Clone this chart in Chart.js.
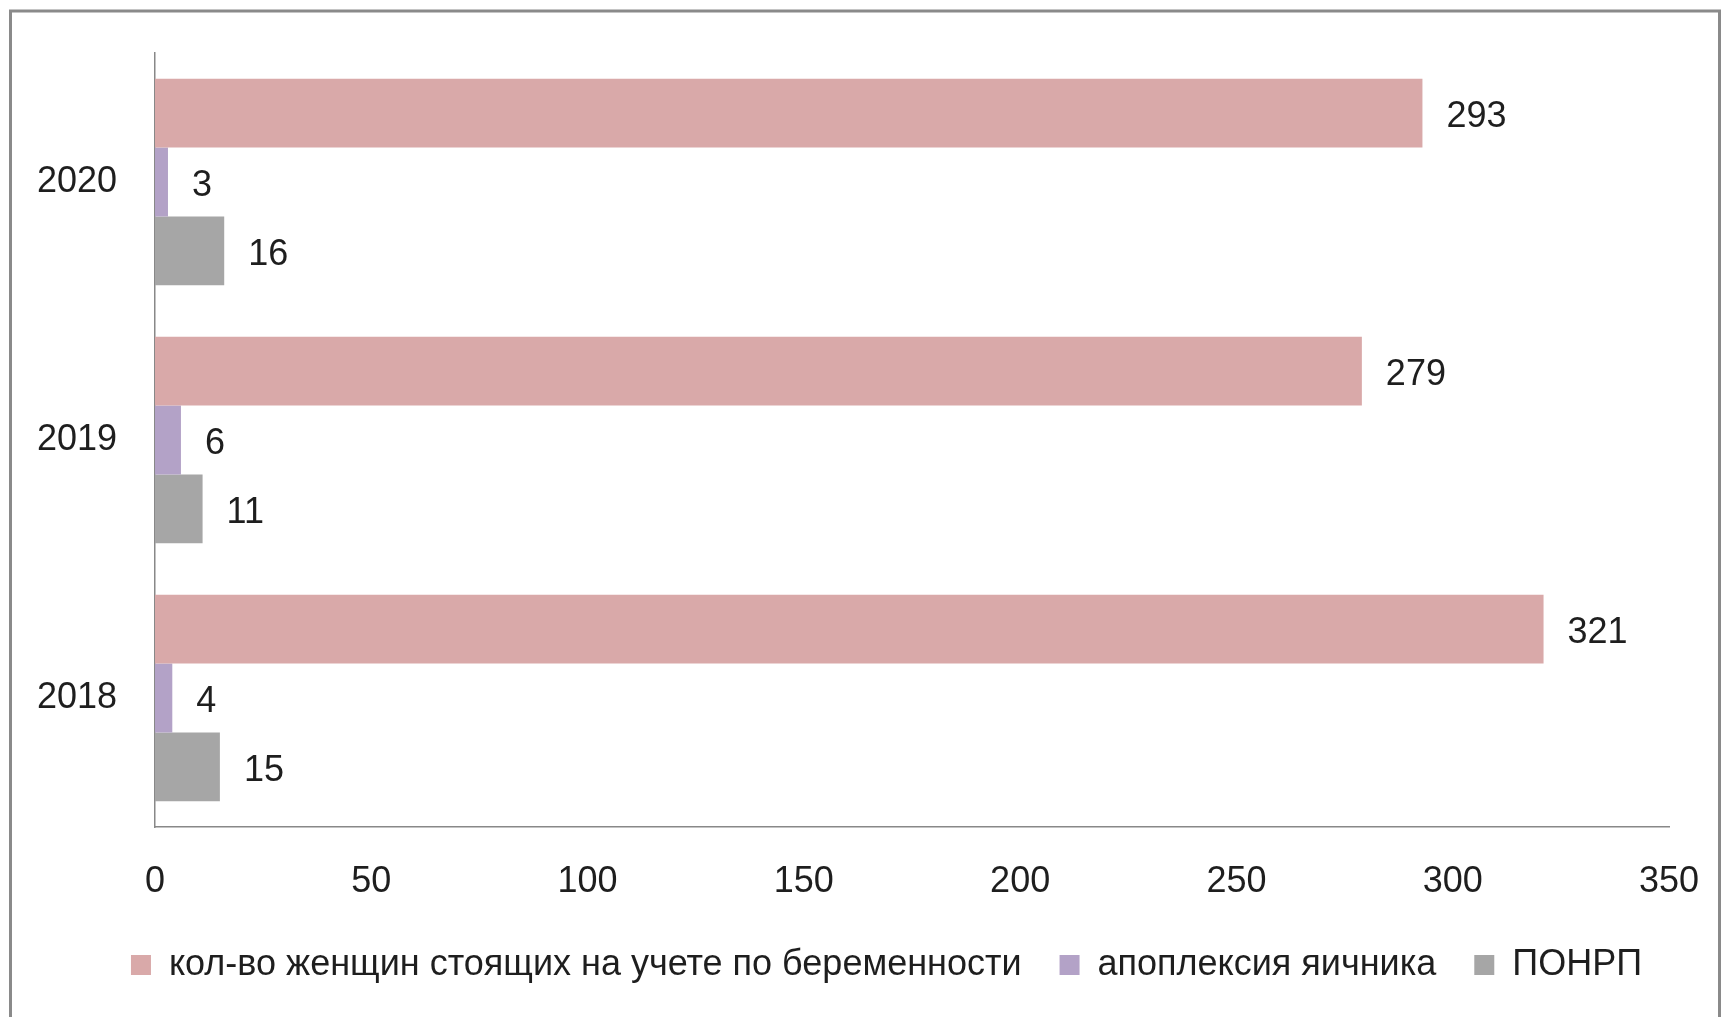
<!DOCTYPE html>
<html>
<head>
<meta charset="utf-8">
<script src="https://cdn.jsdelivr.net/npm/chart.js@4/dist/chart.umd.min.js"></script>
<style>
    body { margin: 0; background: #fff; }
    #chart { display: block; }
</style>
</head>
<body>
<canvas id="chart" width="1723" height="1017"></canvas>
<script>
const years = ["2020", "2019", "2018"];
const pregnantCount = [293, 279, 321];
const ovarianApoplexy = [3, 6, 4];
const ponrp = [16, 11, 15];
const xTicks = [0, 50, 100, 150, 200, 250, 300, 350];

const seriesNames = [
    "кол-во женщин стоящих на учете по беременности",
    "апоплексия яичника",
    "ПОНРП"
];

const fontFamily = "'Liberation Sans', Arial, sans-serif";
const textColor = "#1e1e1e";

// value labels to the right of every bar
const barLabels = {
    id: "barLabels",
    afterDatasetsDraw(chart) {
        const ctx = chart.ctx;
        ctx.save();
        ctx.font = "36px " + fontFamily;
        ctx.fillStyle = textColor;
        ctx.textAlign = "left";
        ctx.textBaseline = "middle";
        chart.data.datasets.forEach((ds, i) => {
            chart.getDatasetMeta(i).data.forEach((bar, j) => {
                ctx.fillText(String(ds.data[j]), bar.x + 24, bar.y + 4);
            });
        });
        ctx.restore();
    }
};

// grey frame round the whole picture
const frame = {
    id: "frame",
    beforeDraw(chart) {
        const ctx = chart.ctx;
        ctx.save();
        ctx.fillStyle = "#fff";
        ctx.fillRect(0, 0, chart.width, chart.height);
        ctx.strokeStyle = "#8a8a8a";
        ctx.lineWidth = 3;
        ctx.strokeRect(10.5, 11, 1709, 1100);
        ctx.restore();
    }
};

// the legend sits a little right of centre in the original
const legendShift = {
    id: "legendShift",
    afterLayout(chart) {
        chart.legend.left += 52;
        chart.legend.right += 52;
    }
};

const ctx = document.getElementById("chart").getContext("2d");
const chart = new Chart(ctx, {
    type: "bar",
    data: {
        labels: years,
        datasets: [
            {
                label: seriesNames[0],
                data: pregnantCount,
                backgroundColor: "#d9a9a9",
            },
            {
                label: seriesNames[1],
                data: ovarianApoplexy,
                backgroundColor: "#b3a2c7",
            },
            {
                label: seriesNames[2],
                data: ponrp,
                backgroundColor: "#a6a6a6",
            },
        ],
    },
    options: {
        indexAxis: "y",
        responsive: false,
        animation: false,
        layout: {
            padding: { left: 0, top: 53, right: 54, bottom: 24 },
        },
        datasets: {
            bar: {
                categoryPercentage: 0.8,
                barPercentage: 1.0,
            },
        },
        scales: {
            x: {
                min: 0,
                max: 350,
                afterBuildTicks: (scale) => {
                    scale.ticks = xTicks.map((v) => ({ value: v }));
                },
                afterFit: (scale) => {
                    scale.height = 82;
                    scale.paddingLeft = 0;
                    scale.paddingRight = 0;
                },
                grid: { display: false, drawTicks: false },
                border: { display: true, color: "#888", width: 1.5 },
                ticks: {
                    color: textColor,
                    padding: 33,
                    maxRotation: 0,
                    font: { family: fontFamily, size: 36 },
                },
            },
            y: {
                afterFit: (scale) => {
                    scale.width = 155;
                    scale.paddingTop = 0;
                    scale.paddingBottom = 0;
                },
                grid: { display: false, drawTicks: false },
                border: { display: true, color: "#888", width: 1.5 },
                ticks: {
                    color: textColor,
                    padding: 38,
                    font: { family: fontFamily, size: 36 },
                },
            },
        },
        plugins: {
            legend: {
                position: "bottom",
                labels: {
                    boxWidth: 20,
                    boxHeight: 20,
                    padding: 38,
                    color: textColor,
                    font: { family: fontFamily, size: 36 },
                },
            },
            tooltip: { enabled: false },
        },
    },
    plugins: [frame, legendShift, barLabels],
});
</script>
</body>
</html>
